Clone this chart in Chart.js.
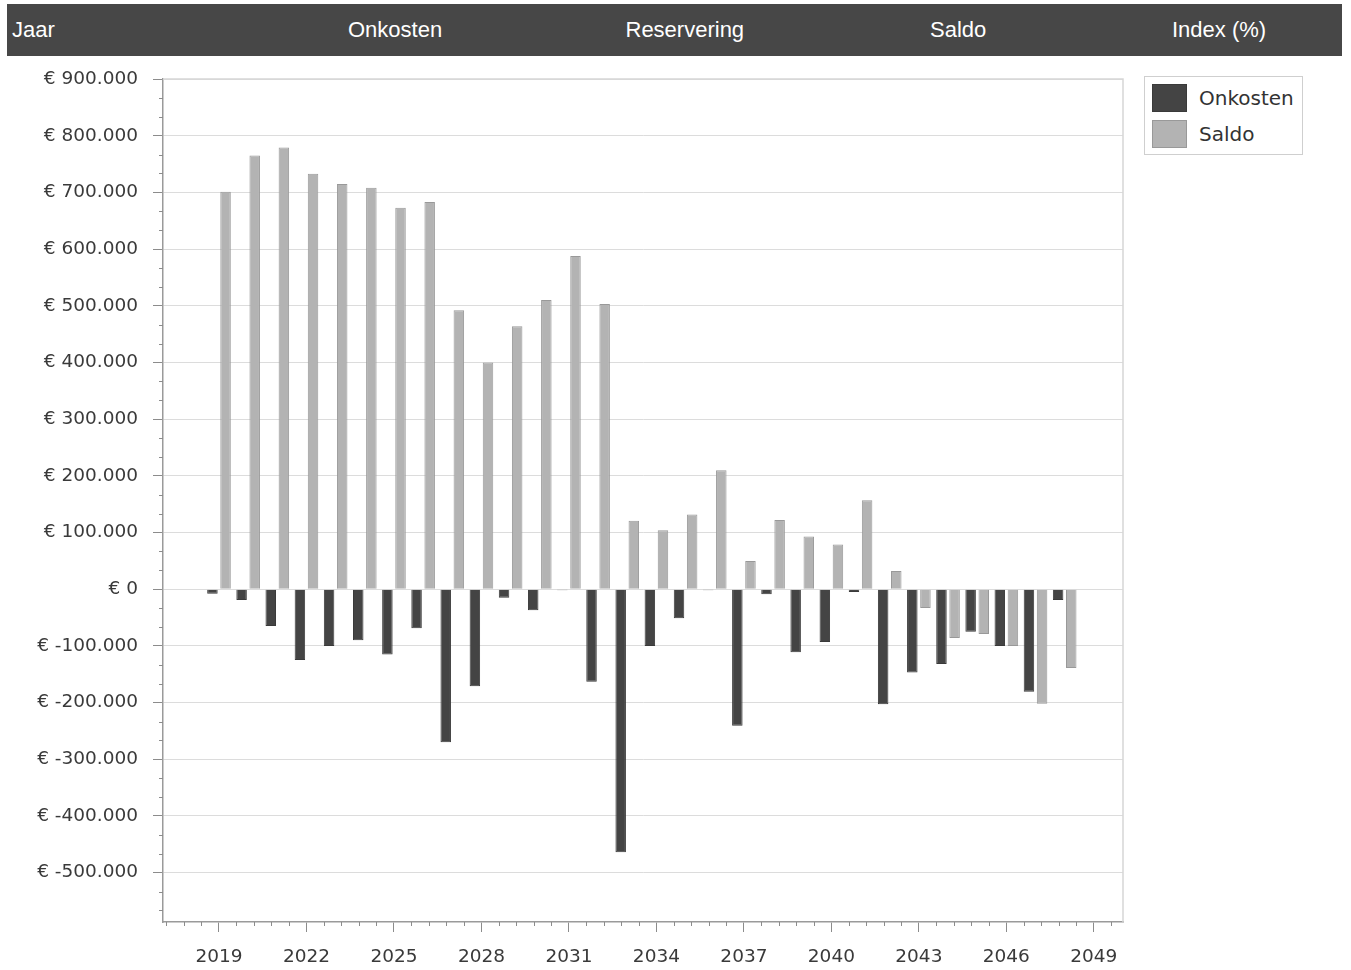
<!DOCTYPE html>
<html>
<head>
<meta charset="utf-8">
<script src="https://cdn.jsdelivr.net/npm/chart.js@4.4.1/dist/chart.umd.min.js"></script>
<style>
  body { margin: 0; background: #fff; width: 1351px; height: 970px; position: relative; overflow: hidden; }
  #header { position: absolute; left: 7px; top: 4px; width: 1335px; height: 52px; background: #474747; }
  #header span { position: absolute; top: 0; line-height: 52px; color: #fff; font-family: 'Liberation Sans', Arial, sans-serif; font-size: 22px; white-space: nowrap; }
  #chartBox { position: absolute; left: 0; top: 60px; width: 1351px; height: 910px; }
  #legend { position: absolute; left: 1144px; top: 76px; width: 159px; height: 79px; box-sizing: border-box; border: 1.5px solid #cfcfcf; background: #fff; }
  .item { position: absolute; left: 7px; height: 28px; font-family: 'DejaVu Sans', sans-serif; font-size: 20px; color: #333; }
  .item i { position: absolute; left: 0; top: 0; width: 35px; height: 28px; box-sizing: border-box; border: 1px solid; }
  .item span { position: absolute; left: 47px; top: 0; line-height: 28px; white-space: nowrap; }
</style>
</head>
<body>
<div id="header"></div>
<div id="chartBox"><canvas id="kostenChart"></canvas></div>
<div id="legend"></div>
<script>
// Kolomkoppen bovenin
const headerLabels = ['Jaar', 'Onkosten', 'Reservering', 'Saldo', 'Index (%)'];
const headerCenters = [null, 395, 685, 958, 1219];

// Jaren en bedragen
const years = [2019, 2020, 2021, 2022, 2023, 2024, 2025, 2026, 2027, 2028,
               2029, 2030, 2031, 2032, 2033, 2034, 2035, 2036, 2037, 2038,
               2039, 2040, 2041, 2042, 2043, 2044, 2045, 2046, 2047, 2048];
const onkosten = [-8000, -19000, -65000, -125000, -100000, -90000, -115000, -69000, -270000, -171000,
                  -15000, -37000, -2000, -163000, -464000, -100000, -51000, -2000, -241000, -9000,
                  -111000, -93000, -5000, -203000, -147000, -132000, -75000, -100000, -181000, -19000];
const saldo = [701000, 765000, 779000, 733000, 715000, 708000, 673000, 683000, 492000, 400000,
               464000, 510000, 588000, 503000, 121000, 104000, 132000, 210000, 50000, 122000,
               93000, 79000, 157000, 32000, -33000, -86000, -79000, -100000, -202000, -139000];

// Tick labels
const xTickYears = [2019, 2022, 2025, 2028, 2031, 2034, 2037, 2040, 2043, 2046, 2049];
const yTickValues = [-500000, -400000, -300000, -200000, -100000, 0, 100000, 200000,
                     300000, 400000, 500000, 600000, 700000, 800000, 900000];

const seriesNames = ['Onkosten', 'Saldo'];
const seriesFill = ['#444444', '#b3b3b3'];
const seriesBorder = ['#3a3a3a', '#999999'];

// header
const header = document.getElementById('header');
headerLabels.forEach((txt, i) => {
  const s = document.createElement('span');
  s.textContent = txt;
  header.appendChild(s);
  if (headerCenters[i] === null) {
    s.style.left = '5px';
  } else {
    s.style.left = (headerCenters[i] - 7 - s.offsetWidth / 2) + 'px';
  }
});

// legend
const legend = document.getElementById('legend');
seriesNames.forEach((name, i) => {
  const d = document.createElement('div');
  d.className = 'item';
  d.style.top = (7 + i * 36) + 'px';
  d.innerHTML = '<i style="background:' + seriesFill[i] + ';border-color:' + seriesBorder[i] + '"></i><span>' + name + '</span>';
  legend.appendChild(d);
});

function euro(v) {
  const abs = Math.abs(v).toString().replace(/\B(?=(\d{3})+(?!\d))/g, '.');
  return '€ ' + (v < 0 ? '-' : '') + abs;
}

// kleine tussen-ticks op beide assen
const minorTicks = {
  id: 'minorTicks',
  afterDraw(chart) {
    const ctx = chart.ctx;
    const xs = chart.scales.x, ys = chart.scales.y;
    const a = chart.chartArea;
    ctx.save();
    // kader boven en rechts
    ctx.strokeStyle = '#d6d6d6';
    ctx.lineWidth = 1.5;
    ctx.beginPath();
    ctx.moveTo(a.left, a.top);
    ctx.lineTo(a.right, a.top);
    ctx.lineTo(a.right, a.bottom);
    ctx.stroke();

    ctx.strokeStyle = '#8c8c8c';
    ctx.lineWidth = 1;
    ctx.beginPath();
    const yStep = 100000 / 3;
    for (let v = ys.max; v >= ys.min; v -= yStep) {
      if (Math.abs(Math.round(v / 100000) * 100000 - v) < 1) continue;
      const p = Math.round(ys.getPixelForValue(v)) + 0.5;
      ctx.moveTo(a.left - 4, p);
      ctx.lineTo(a.left, p);
    }
    const xStep = 0.6;
    for (let k = -5; k <= 60; k++) {
      const v = 2019 + k * xStep;
      if (k % 5 === 0 || v < xs.min || v > xs.max) continue;
      const p = Math.round(xs.getPixelForValue(v)) + 0.5;
      ctx.moveTo(p, a.bottom);
      ctx.lineTo(p, a.bottom + 4);
    }
    ctx.stroke();
    ctx.restore();
  }
};

const axisFont = { family: 'DejaVu Sans', size: 18.5 };

const ctx = document.getElementById('kostenChart').getContext('2d');
new Chart(ctx, {
  type: 'bar',
  data: {
    datasets: [
      {
        label: seriesNames[0],
        data: years.map((y, i) => ({ x: y, y: onkosten[i] })),
        backgroundColor: seriesFill[0],
        borderColor: seriesBorder[0],
        borderWidth: 1,
      },
      {
        label: seriesNames[1],
        data: years.map((y, i) => ({ x: y, y: saldo[i] })),
        backgroundColor: seriesFill[1],
        borderColor: seriesBorder[1],
        borderWidth: 1,
      },
    ],
  },
  options: {
    responsive: true,
    maintainAspectRatio: false,
    animation: false,
    categoryPercentage: 0.9,
    barPercentage: 0.8,
    layout: { padding: { top: 19, right: 228, left: 0, bottom: 0 } },
    scales: {
      x: {
        type: 'linear',
        min: 2017.08,
        max: 2050,
        offset: false,
        afterBuildTicks: (axis) => { axis.ticks = xTickYears.map(v => ({ value: v })); },
        afterFit: (axis) => { axis.height = 48; axis.paddingLeft = 0; axis.paddingRight = 0; },
        grid: { offset: false, drawOnChartArea: false, drawTicks: true, tickLength: 10, tickColor: '#8c8c8c' },
        border: { color: '#9a9a9a', width: 1.5 },
        ticks: { font: axisFont, color: '#3a3a3a', padding: 14, maxRotation: 0, callback: (v) => String(v) }
      },
      y: {
        min: -587000,
        max: 900000,
        afterBuildTicks: (axis) => { axis.ticks = yTickValues.map(v => ({ value: v })); },
        afterFit: (axis) => { axis.width = 163; axis.paddingTop = 0; axis.paddingBottom = 0; },
        grid: { color: '#dcdcdc', lineWidth: 1, tickLength: 10, tickColor: '#8c8c8c' },
        border: { color: '#9a9a9a', width: 1.5 },
        ticks: { font: axisFont, color: '#3a3a3a', padding: 15, callback: (v) => euro(v) }
      }
    },
    plugins: {
      legend: { display: false },
      tooltip: { enabled: false }
    }
  },
  plugins: [minorTicks]
});
</script>
</body>
</html>
